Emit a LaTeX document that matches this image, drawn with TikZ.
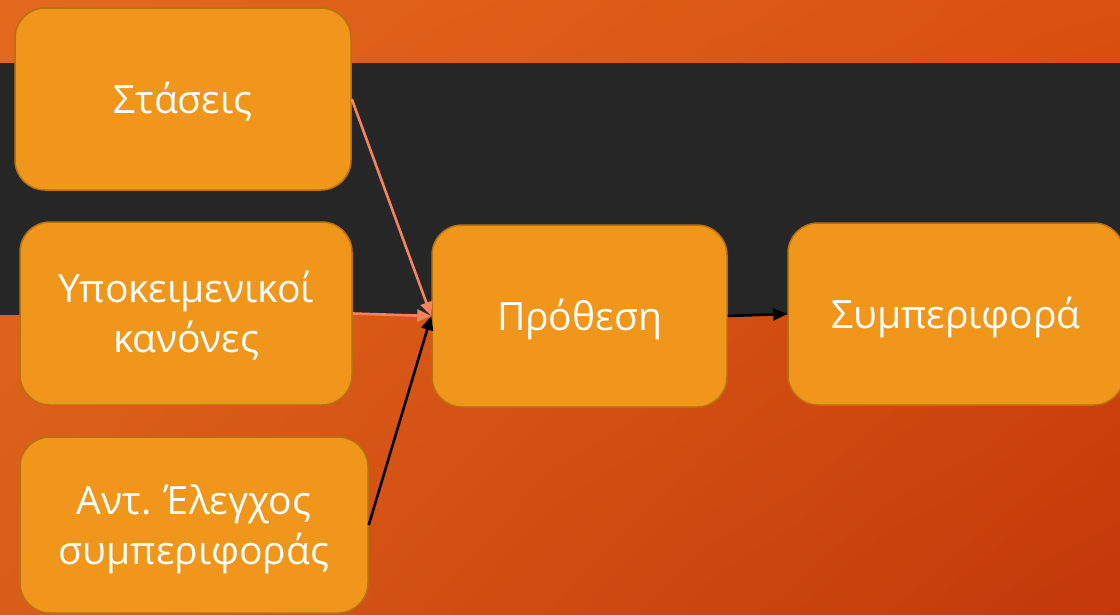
\documentclass[tikz,border=0pt]{standalone}
\usepackage{fontspec}
\setmainfont{Open Sans}
\usetikzlibrary{arrows.meta,shadings}
\definecolor{bgUL}{HTML}{E3691F}
\definecolor{bgUR}{HTML}{D9500F}
\definecolor{bgLL}{HTML}{D95C18}
\definecolor{bgLR}{HTML}{C2380A}
\definecolor{band}{HTML}{262626}
\definecolor{boxfill}{HTML}{F0961A}
\definecolor{boxline}{HTML}{B5720F}
\definecolor{salmon}{HTML}{F5845E}
\newcommand\lowtext[1]{\raisebox{-4pt}[\height][\depth]{\begin{tabular}{@{}c@{}}#1\end{tabular}}}
\tikzset{
  box/.style={draw=boxline, line width=1.5pt, fill=boxfill, rounded corners=30pt,
    text=white, align=center, inner sep=0pt, font=\fontsize{39}{50}\selectfont},
  salarrow/.style={draw=salmon, line width=2.6pt, -{Triangle[length=14pt,width=12pt]}},
  blkarrow/.style={draw=black, line width=2.6pt, -{Triangle[length=14pt,width=12pt]}}
}
\begin{document}
\begin{tikzpicture}[x=1pt,y=-1pt]
\useasboundingbox (0,0) rectangle (1120,614);
\clip (0,0) rectangle (1120,614);
\shade[upper left=bgUL, upper right=bgUR, lower left=bgLL, lower right=bgLR] (0,0) rectangle (1120,614);
\fill[band] (0,63) rectangle (1120,315);
\node[box, minimum width=336pt, minimum height=182pt] (sta) at (183,99) {\lowtext{Στάσεις}};
\node[box, minimum width=332pt, minimum height=183pt] (ypo) at (186,313.5) {\lowtext{Υποκειμενικοί\\κανόνες}};
\node[box, minimum width=348pt, minimum height=176pt] (ant) at (194,525) {\lowtext{Αντ. Έλεγχος\\συμπεριφοράς}};
\node[box, minimum width=295pt, minimum height=182pt] (pro) at (579.5,316) {\lowtext{Πρόθεση}};
\node[box, minimum width=336pt, minimum height=182pt] (sym) at (956,314) {\lowtext{Συμπεριφορά}};
\draw[salarrow] (sta.east) -- (pro.west);
\draw[salarrow] (ypo.east) -- (pro.west);
\draw[blkarrow] (ant.east) -- (pro.west);
\draw[blkarrow] (pro.east) -- (sym.west);
\end{tikzpicture}
\end{document}
